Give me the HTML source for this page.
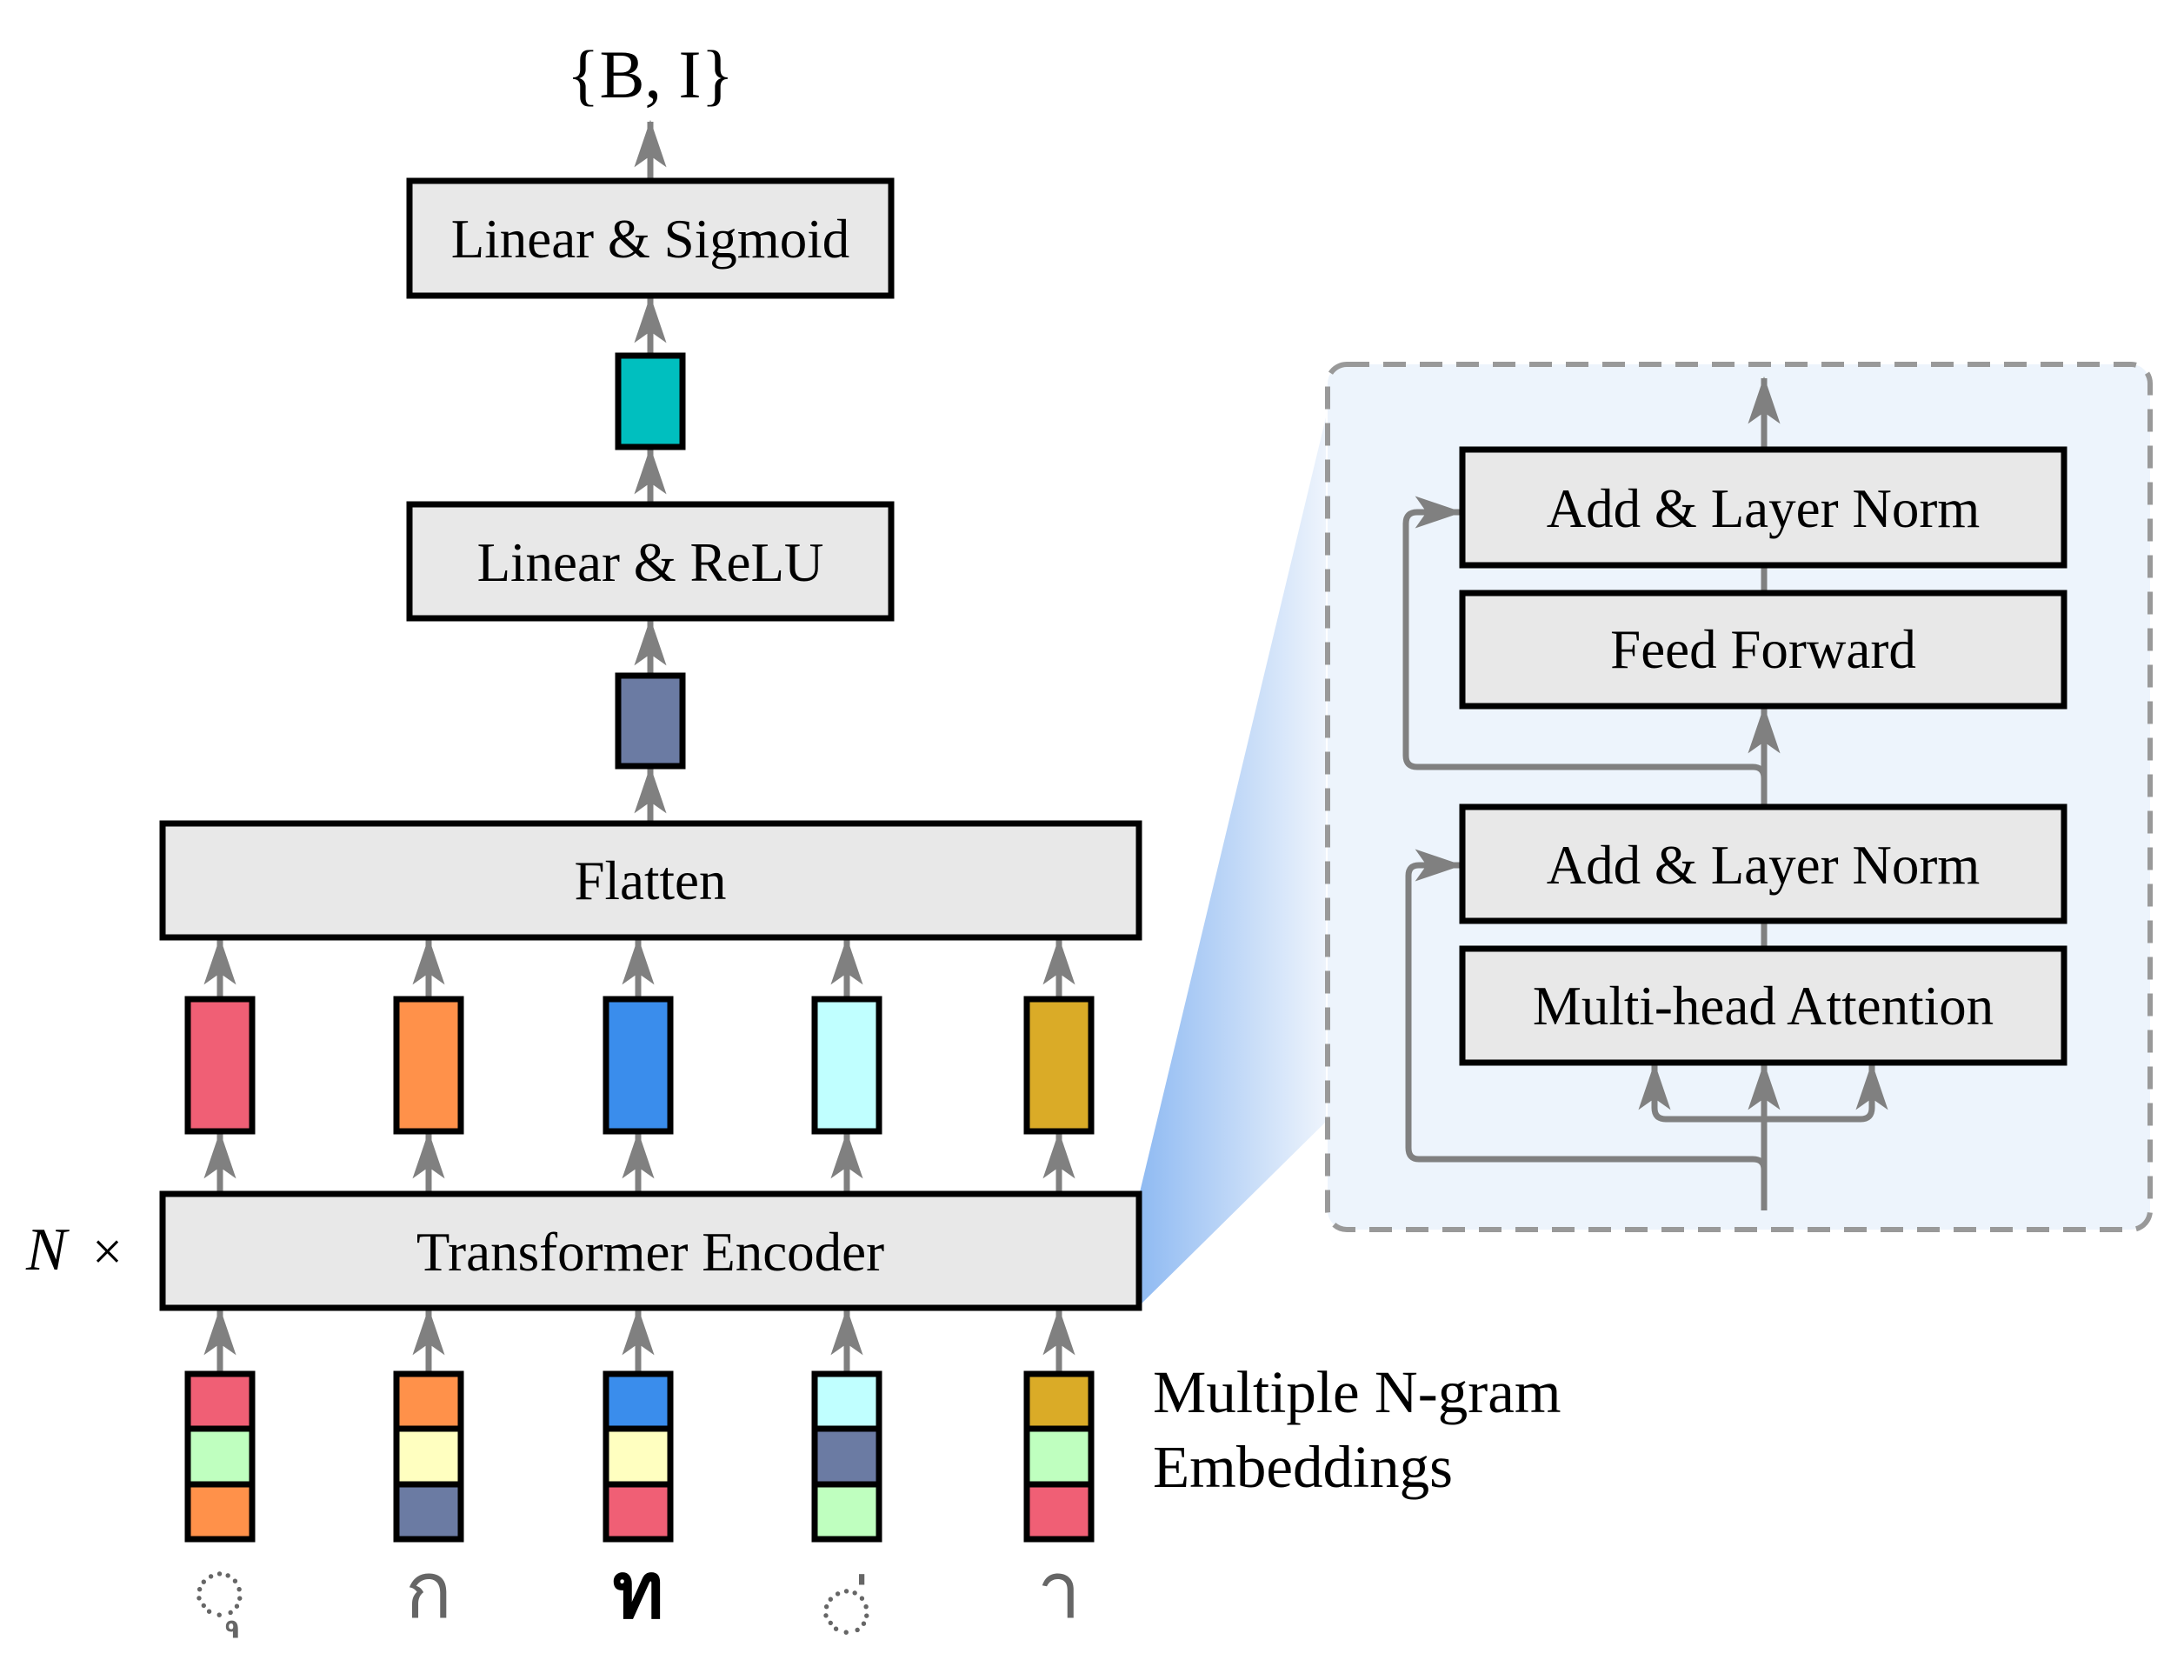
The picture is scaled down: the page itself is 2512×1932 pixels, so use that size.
<!DOCTYPE html>
<html><head><meta charset="utf-8"><style>
html,body{margin:0;padding:0;background:#fff}
svg{display:block}
text{font-family:"Liberation Serif",serif;fill:#000}
</style></head><body>
<svg width="2512" height="1932" viewBox="0 0 2512 1932" xmlns="http://www.w3.org/2000/svg">
<defs>
<marker id="ah" markerUnits="userSpaceOnUse" markerWidth="60" markerHeight="60" viewBox="-50 -25 55 50" refX="0" refY="0" orient="auto">
<path d="M2,0 L-48,-17 L-36,0 L-48,17 Z" fill="#808080"/>
</marker>
<linearGradient id="wg" x1="0" y1="0" x2="1" y2="0">
<stop offset="0" stop-color="#8fbaf2"/><stop offset="1" stop-color="#eef4fc"/>
</linearGradient>
</defs>
<polygon points="1310,1375 1310,1502 1525,1290 1525,480" fill="url(#wg)"/>
<rect x="1527" y="419" width="946" height="995" rx="22" fill="#edf4fc" stroke="#999" stroke-width="6" stroke-dasharray="26,16"/>

<g fill="none" stroke="#808080" stroke-width="7">
<line x1="748" y1="208" x2="748" y2="140" marker-end="url(#ah)"/>
<line x1="748" y1="409" x2="748" y2="342" marker-end="url(#ah)"/>
<line x1="748" y1="580" x2="748" y2="516" marker-end="url(#ah)"/>
<line x1="748" y1="777" x2="748" y2="713" marker-end="url(#ah)"/>
<line x1="748" y1="947" x2="748" y2="883" marker-end="url(#ah)"/>
<g>
<line x1="253" y1="1149" x2="253" y2="1080" marker-end="url(#ah)"/>
<line x1="493" y1="1149" x2="493" y2="1080" marker-end="url(#ah)"/>
<line x1="734" y1="1149" x2="734" y2="1080" marker-end="url(#ah)"/>
<line x1="974" y1="1149" x2="974" y2="1080" marker-end="url(#ah)"/>
<line x1="1218" y1="1149" x2="1218" y2="1080" marker-end="url(#ah)"/>
<line x1="253" y1="1373" x2="253" y2="1303" marker-end="url(#ah)"/>
<line x1="493" y1="1373" x2="493" y2="1303" marker-end="url(#ah)"/>
<line x1="734" y1="1373" x2="734" y2="1303" marker-end="url(#ah)"/>
<line x1="974" y1="1373" x2="974" y2="1303" marker-end="url(#ah)"/>
<line x1="1218" y1="1373" x2="1218" y2="1303" marker-end="url(#ah)"/>
<line x1="253" y1="1580" x2="253" y2="1506" marker-end="url(#ah)"/>
<line x1="493" y1="1580" x2="493" y2="1506" marker-end="url(#ah)"/>
<line x1="734" y1="1580" x2="734" y2="1506" marker-end="url(#ah)"/>
<line x1="974" y1="1580" x2="974" y2="1506" marker-end="url(#ah)"/>
<line x1="1218" y1="1580" x2="1218" y2="1506" marker-end="url(#ah)"/>
</g>
<line x1="2029" y1="517" x2="2029" y2="435" marker-end="url(#ah)"/>
<line x1="2029" y1="682" x2="2029" y2="650"/>
<line x1="2029" y1="1091" x2="2029" y2="1059"/>
<line x1="2029" y1="928" x2="2029" y2="814" marker-end="url(#ah)"/>
<path d="M2029,895 Q2029,882 2016,882 L1630,882 Q1617,882 1617,869 L1617,602 Q1617,589 1630,589 L1680,589" marker-end="url(#ah)"/>
<path d="M2029,1392 L2029,1224" marker-end="url(#ah)"/>
<path d="M2029,1345 Q2029,1333 2016,1333 L1632,1333 Q1620,1333 1620,1320 L1620,1007 Q1620,995 1632,995 L1680,995" marker-end="url(#ah)"/>
<path d="M2029,1287 L1916,1287 Q1903,1287 1903,1274 L1903,1224" marker-end="url(#ah)"/>
<path d="M2029,1287 L2140,1287 Q2153,1287 2153,1274 L2153,1224" marker-end="url(#ah)"/>
</g>

<g stroke="#000" stroke-width="7" fill="#e8e8e8">
<rect x="471" y="208" width="554" height="132"/>
<rect x="471" y="580" width="554" height="131"/>
<rect x="187" y="947" width="1123" height="131"/>
<rect x="187" y="1373" width="1123" height="131"/>
<rect x="1682" y="517" width="692" height="133"/>
<rect x="1682" y="682" width="692" height="130"/>
<rect x="1682" y="928" width="692" height="131"/>
<rect x="1682" y="1091" width="692" height="131"/>
<rect x="711" y="409" width="74" height="105" fill="#00BFBF"/>
<rect x="711" y="777" width="74" height="104" fill="#6B7BA3"/>
<rect x="216" y="1149" width="74" height="152" fill="#F05F75"/>
<rect x="456" y="1149" width="74" height="152" fill="#FF914A"/>
<rect x="697" y="1149" width="74" height="152" fill="#3A8DEC"/>
<rect x="937" y="1149" width="74" height="152" fill="#C0FFFF"/>
<rect x="1181" y="1149" width="74" height="152" fill="#DAAB27"/>
<rect x="216" y="1580" width="74" height="63" fill="#F05F75"/>
<rect x="216" y="1643" width="74" height="64" fill="#BFFFBF"/>
<rect x="216" y="1707" width="74" height="63" fill="#FF914A"/>
<rect x="456" y="1580" width="74" height="63" fill="#FF914A"/>
<rect x="456" y="1643" width="74" height="64" fill="#FFFFC0"/>
<rect x="456" y="1707" width="74" height="63" fill="#6B7BA3"/>
<rect x="697" y="1580" width="74" height="63" fill="#3A8DEC"/>
<rect x="697" y="1643" width="74" height="64" fill="#FFFFC0"/>
<rect x="697" y="1707" width="74" height="63" fill="#F05F75"/>
<rect x="937" y="1580" width="74" height="63" fill="#C0FFFF"/>
<rect x="937" y="1643" width="74" height="64" fill="#6B7BA3"/>
<rect x="937" y="1707" width="74" height="63" fill="#BFFFBF"/>
<rect x="1181" y="1580" width="74" height="63" fill="#DAAB27"/>
<rect x="1181" y="1643" width="74" height="64" fill="#BFFFBF"/>
<rect x="1181" y="1707" width="74" height="63" fill="#F05F75"/>
</g>

<g font-size="63" text-anchor="middle">
<text x="748" y="296">Linear &amp; Sigmoid</text>
<text x="748" y="668">Linear &amp; ReLU</text>
<text x="748" y="1034">Flatten</text>
<text x="748" y="1461">Transformer Encoder</text>
<text x="2028" y="606">Add &amp; Layer Norm</text>
<text x="2028" y="768">Feed Forward</text>
<text x="2028" y="1016">Add &amp; Layer Norm</text>
<text x="2028" y="1178">Multi-head Attention</text>
<text x="748" y="112" font-size="78">{B, I}</text>
</g>
<text x="30" y="1460" font-size="70" font-style="italic">N</text>
<text x="106" y="1460" font-size="62">×</text>
<text x="1326" y="1624" font-size="69">Multiple N-gram</text>
<text x="1326" y="1710" font-size="69">Embeddings</text>

<g text-anchor="middle">
<text x="253" y="1860" font-size="90" style="font-family:'DejaVu Sans',sans-serif;fill:#666">◌ุ</text>
<text x="493" y="1860" font-size="90" style="font-family:'DejaVu Sans',sans-serif;fill:#666">ก</text>
<text x="734" y="1860" font-size="90" style="font-family:'DejaVu Sans',sans-serif;fill:#000;font-weight:bold">ท</text>
<text x="974" y="1880" font-size="90" style="font-family:'DejaVu Sans',sans-serif;fill:#666">◌่</text>
<text x="1218" y="1860" font-size="90" style="font-family:'DejaVu Sans',sans-serif;fill:#666">า</text>
</g>
</svg>
</body></html>
